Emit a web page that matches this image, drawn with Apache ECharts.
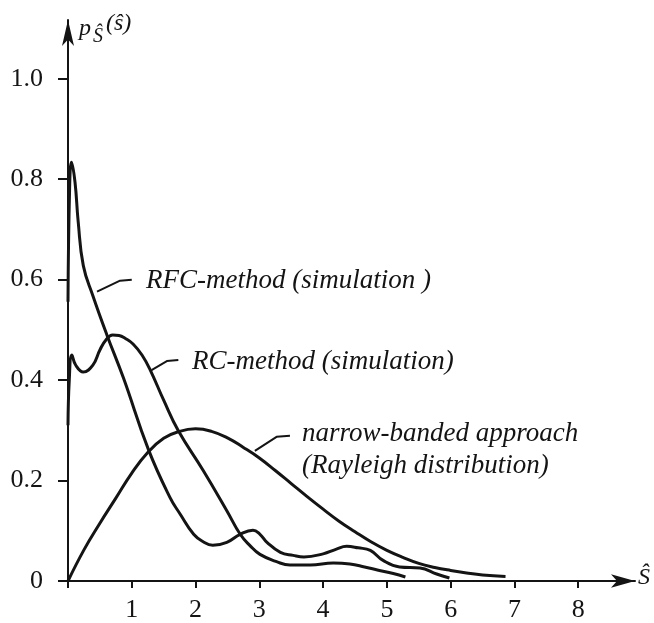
<!DOCTYPE html>
<html><head><meta charset="utf-8">
<script src="https://cdn.jsdelivr.net/npm/echarts@6/dist/echarts.min.js"></script>
<style>html,body{margin:0;padding:0;background:#fff}#c{width:654px;height:623px}</style>
</head><body><div id="c"></div>
<script>
// Axis ticks and labels
const xTicks = [0, 1, 2, 3, 4, 5, 6, 7, 8];
const xTickLabels = ['', '1', '2', '3', '4', '5', '6', '7', '8'];
const yTicks = [0, 0.2, 0.4, 0.6, 0.8, 1.0];
const yTickLabels = ['0', '0.2', '0.4', '0.6', '0.8', '1.0'];

// RFC-method (simulation)
const rfcX = [0, 0.025, 0.055, 0.11, 0.16, 0.24, 0.39, 0.61, 0.87, 1.26, 1.6, 1.76, 1.97, 2.12, 2.27, 2.49, 2.7, 2.9, 3.01, 3.12, 3.33, 3.53, 3.7, 4.0, 4.2, 4.37, 4.55, 4.74, 4.94, 5.2, 5.52, 5.78, 5.98];
const rfcY = [0.556, 0.78, 0.834, 0.794, 0.715, 0.628, 0.568, 0.49, 0.404, 0.262, 0.166, 0.133, 0.093, 0.078, 0.071, 0.077, 0.093, 0.101, 0.093, 0.077, 0.057, 0.051, 0.048, 0.054, 0.063, 0.069, 0.066, 0.061, 0.041, 0.028, 0.026, 0.014, 0.006];

// RC-method (simulation)
const rcX = [0, 0.02, 0.06, 0.12, 0.24, 0.39, 0.5, 0.6, 0.7, 0.8, 0.9, 1.02, 1.16, 1.29, 1.5, 1.73, 2.12, 2.49, 2.7, 2.85, 3.01, 3.28, 3.48, 3.8, 4.16, 4.42, 4.65, 4.85, 5.1, 5.29];
const rcY = [0.31, 0.40, 0.45, 0.43, 0.416, 0.43, 0.46, 0.481, 0.49, 0.489, 0.483, 0.472, 0.45, 0.42, 0.36, 0.299, 0.22, 0.14, 0.093, 0.071, 0.053, 0.038, 0.032, 0.032, 0.036, 0.034, 0.028, 0.022, 0.015, 0.008];

// narrow-banded approach (Rayleigh distribution)
const rayX = [0, 0.25, 0.5, 0.75, 1.0, 1.25, 1.5, 1.75, 2.0, 2.25, 2.5, 2.75, 3.0, 3.25, 3.5, 3.75, 4.0, 4.25, 4.5, 4.75, 5.0, 5.25, 5.5, 5.75, 6.0, 6.25, 6.5, 6.86];
const rayY = [0, 0.062, 0.115, 0.165, 0.215, 0.256, 0.284, 0.298, 0.303, 0.298, 0.285, 0.266, 0.245, 0.22, 0.194, 0.168, 0.143, 0.119, 0.098, 0.078, 0.061, 0.047, 0.035, 0.027, 0.021, 0.016, 0.012, 0.009];

// Leader lines for annotations (data coordinates)
const rfcLeaderX = [0.455, 0.816, 1.0];
const rfcLeaderY = [0.576, 0.598, 0.600];
const rcLeaderX = [1.31, 1.55, 1.73];
const rcLeaderY = [0.42, 0.438, 0.44];
const rayLeaderX = [2.93, 3.27, 3.48];
const rayLeaderY = [0.259, 0.287, 0.289];

const ink = '#141414';
const zip = (xs, ys) => xs.map((x, i) => [x, ys[i]]);
const pick = (ticks, labels) => v => {
  const i = ticks.findIndex(t => Math.abs(t - v) < 1e-6);
  return i < 0 ? '' : labels[i];
};

const curve = (d) => ({
  type: 'line', data: d, showSymbol: false, smooth: 0.45, silent: true,
  lineStyle: { color: ink, width: 3 }, z: 3
});
const leader = (d) => ({
  type: 'line', data: d, showSymbol: false, smooth: false, silent: true,
  lineStyle: { color: ink, width: 2 }, z: 3
});

const chart = echarts.init(document.getElementById('c'), null, { renderer: 'canvas' });
const txtFont = 'italic 27px "Liberation Serif"';
chart.setOption({
  backgroundColor: '#fff',
  animation: false,
  grid: { left: 68, top: 20, width: 567, height: 564 },
  xAxis: {
    type: 'value', min: 0, max: 8.89,
    axisLine: { show: true, onZero: false, symbol: ['none', 'arrow'], symbolSize: [10, 24], lineStyle: { color: ink, width: 2 } },
    axisTick: { show: true, customValues: xTicks, length: 7, lineStyle: { color: ink, width: 2 } },
    axisLabel: { customValues: xTicks, formatter: pick(xTicks, xTickLabels), fontFamily: 'Liberation Serif', fontSize: 26, color: ink, margin: 16 },
    splitLine: { show: false }
  },
  yAxis: {
    type: 'value', min: 0, max: 1.117,
    axisLine: { show: true, onZero: false, symbol: ['none', 'arrow'], symbolSize: [9, 26], lineStyle: { color: ink, width: 2 } },
    axisTick: { show: true, customValues: yTicks, length: 10, lineStyle: { color: ink, width: 2 } },
    axisLabel: { customValues: yTicks, formatter: pick(yTicks, yTickLabels), fontFamily: 'Liberation Serif', fontSize: 26, color: ink, margin: 25 },
    splitLine: { show: false }
  },
  series: [
    curve(zip(rfcX, rfcY)),
    curve(zip(rcX, rcY)),
    curve(zip(rayX, rayY)),
    leader(zip(rfcLeaderX, rfcLeaderY)),
    leader(zip(rcLeaderX, rcLeaderY)),
    leader(zip(rayLeaderX, rayLeaderY))
  ],
  graphic: [
    { type: 'text', left: 146, top: 267, style: { text: 'RFC-method (simulation )', font: txtFont, fill: ink } },
    { type: 'text', left: 192, top: 348, style: { text: 'RC-method (simulation)', font: txtFont, fill: ink } },
    { type: 'text', left: 302, top: 420, style: { text: 'narrow-banded approach', font: txtFont, fill: ink } },
    { type: 'text', left: 302, top: 452, style: { text: '(Rayleigh distribution)', font: txtFont, fill: ink } },
    { type: 'text', left: 79, top: 17, style: { text: 'p', font: 'italic 24px "Liberation Serif"', fill: ink } },
    { type: 'text', left: 93, top: 27, style: { text: 'Ŝ', font: 'italic 20px "Liberation Serif"', fill: ink } },
    { type: 'text', left: 106, top: 12, style: { text: '(ŝ)', font: 'italic 24px "Liberation Serif"', fill: ink } },
    { type: 'text', left: 638, top: 566, style: { text: 'Ŝ', font: 'italic 24px "Liberation Serif"', fill: ink } }
  ]
});
</script>
</body></html>
